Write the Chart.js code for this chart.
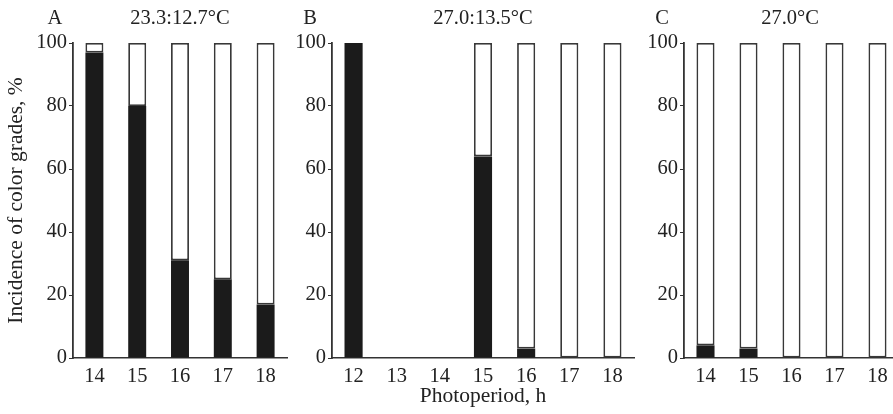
<!DOCTYPE html>
<html>
<head>
<meta charset="utf-8">
<script src="https://cdn.jsdelivr.net/npm/chart.js@4"></script>
<style>
  html, body { margin:0; padding:0; background:#fff; width:893px; height:414px; overflow:hidden; }
  .wrap { position:absolute; top:0; height:414px; }
  .lbl { position:absolute; font-family:"Liberation Serif", serif; font-size:20.5px; color:#222; transform:translate(-50%,-50%); white-space:nowrap; }
</style>
</head>
<body>
<div class="wrap" style="left:0px;width:290px;"><canvas id="cA" width="290" height="414"></canvas></div>
<div class="wrap" style="left:259px;width:378px;"><canvas id="cB" width="378" height="414"></canvas></div>
<div class="wrap" style="left:611px;width:290px;"><canvas id="cC" width="290" height="414"></canvas></div>
<div class="lbl" style="left:55px;top:17px;">A</div>
<div class="lbl" style="left:180px;top:17px;">23.3:12.7°C</div>
<div class="lbl" style="left:310px;top:17px;">B</div>
<div class="lbl" style="left:483px;top:17px;">27.0:13.5°C</div>
<div class="lbl" style="left:662px;top:17px;">C</div>
<div class="lbl" style="left:790px;top:17px;">27.0°C</div>
<script>
// Panel A: 23.3:12.7°C
const catsA = ['14', '15', '16', '17', '18'];
const darkA = [97, 80, 31, 25, 17];
const lightA = [3, 20, 69, 75, 83];
// Panel B: 27.0:13.5°C
const catsB = ['12', '13', '14', '15', '16', '17', '18'];
const darkB = [100, null, null, 64, 3, 0, 0];
const lightB = [null, null, null, 36, 97, 100, 100];
// Panel C: 27.0°C
const catsC = ['14', '15', '16', '17', '18'];
const darkC = [4, 3, 0, 0, 0];
const lightC = [96, 97, 100, 100, 100];
const yTicks = [0, 20, 40, 60, 80, 100];

const FONT = { family: '"Liberation Serif", serif', size: 20.5 };
const TFONT = { family: '"Liberation Serif", serif', size: 21.5 };
const INK = '#222';
const AXIS = '#333';

function makeChart(id, cats, dark, light, opts) {
  const yTitle = opts.yTitle || '';
  const xTitle = opts.xTitle || '';
  new Chart(document.getElementById(id), {
    type: 'bar',
    data: {
      labels: cats,
      datasets: [
        { data: dark, backgroundColor: '#1b1b1b', borderWidth: 0, stack: 's' },
        { data: light, backgroundColor: '#ffffff', borderColor: '#383838', borderWidth: 1.8, borderSkipped: false, stack: 's' }
      ]
    },
    options: {
      responsive: false,
      animation: false,
      devicePixelRatio: 1,
      layout: { padding: { left: 0, right: opts.right, top: 43, bottom: 0 } },
      plugins: { legend: { display: false }, tooltip: { enabled: false }, title: { display: false } },
      datasets: { bar: { categoryPercentage: 1, barPercentage: 0.42 } },
      scales: {
        x: {
          stacked: true,
          offset: true,
          grid: { display: false, drawTicks: false },
          border: { display: true, color: AXIS, width: 1.6 },
          ticks: { color: INK, font: FONT, padding: 6, maxRotation: 0, autoSkip: false },
          title: { display: !!xTitle, text: xTitle, color: INK, font: TFONT, padding: { top: 0, bottom: 5 } },
          afterFit: (s) => { s.height = 56; }
        },
        y: {
          stacked: true,
          min: 0, max: 100,
          afterBuildTicks: (s) => { s.ticks = yTicks.map(v => ({ value: v })); },
          grid: { display: true, drawOnChartArea: false, drawTicks: true, tickLength: 4, color: AXIS, lineWidth: 1 },
          border: { display: true, color: AXIS, width: 1.8 },
          ticks: { color: INK, font: FONT, padding: 2 },
          title: { display: !!yTitle, text: yTitle, color: INK, font: TFONT, padding: { top: 3, bottom: 0 } },
          afterFit: (s) => { s.width = 73; }
        }
      }
    }
  });
}

makeChart('cA', catsA, darkA, lightA, { right: 3, yTitle: 'Incidence of color grades, %' });
makeChart('cB', catsB, darkB, lightB, { right: 3, xTitle: 'Photoperiod, h' });
makeChart('cC', catsC, darkC, lightC, { right: 2 });
</script>
</body>
</html>
